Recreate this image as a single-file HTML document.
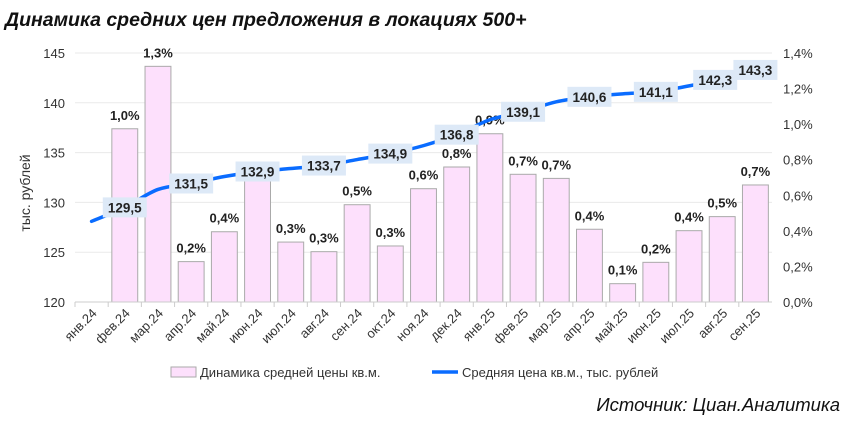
<!DOCTYPE html>
<html><head><meta charset="utf-8">
<style>
body{margin:0;background:#fff;width:846px;height:419px;overflow:hidden;font-family:"Liberation Sans",sans-serif;}
svg text{font-family:"Liberation Sans",sans-serif;}
</style></head>
<body>
<svg width="846" height="419" xmlns="http://www.w3.org/2000/svg">
<text x="5" y="26" font-size="19.5" font-weight="bold" font-style="italic" fill="#111">Динамика средних цен предложения в локациях 500+</text>
<g id="grid"></g>
<g id="bars"></g>
<g id="axes"></g>
<g id="line"></g>
<text transform="translate(30,193) rotate(-90)" text-anchor="middle" font-size="14" fill="#333">тыс. рублей</text>
<g>
<rect x="171" y="367" width="25" height="10" fill="#fde0fc" stroke="#aaa"/>
<text x="200" y="377" font-size="13" fill="#333">Динамика средней цены кв.м.</text>
<line x1="432" y1="372" x2="458" y2="372" stroke="#0a6cff" stroke-width="3.5"/>
<text x="462" y="377" font-size="13" fill="#333">Средняя цена кв.м., тыс. рублей</text>
</g>
<text x="840" y="411" text-anchor="end" font-size="18.5" font-style="italic" fill="#111">Источник: Циан.Аналитика</text>
</svg>
<script>
const categories=["янв.24","фев.24","мар.24","апр.24","май.24","июн.24","июл.24","авг.24","сен.24","окт.24","ноя.24","дек.24","янв.25","фев.25","мар.25","апр.25","май.25","июн.25","июл.25","авг.25","сен.25"];
const barValues=[null,0.974,1.325,0.227,0.395,0.7,0.337,0.283,0.547,0.315,0.637,0.759,0.946,0.718,0.695,0.409,0.103,0.223,0.401,0.48,0.658];
const barLabels=["","1,0%","1,3%","0,2%","0,4%","","0,3%","0,3%","0,5%","0,3%","0,6%","0,8%","0,9%","0,7%","0,7%","0,4%","0,1%","0,2%","0,4%","0,5%","0,7%"];
const priceValues=[128.1,129.5,131.3,131.9,132.6,133.1,133.4,133.7,134.3,134.9,135.7,136.8,138.3,139.1,140.1,140.6,140.9,141.1,141.7,142.3,143.3];
const priceLabels=["","129,5","","131,5","","132,9","","133,7","","134,9","","136,8","","139,1","","140,6","","141,1","","142,3","143,3"];
const leftTicks=[120,125,130,135,140,145];
const rightTicks=["0,0%","0,2%","0,4%","0,6%","0,8%","1,0%","1,2%","1,4%"];
const NS="http://www.w3.org/2000/svg";
const X0=75,X1=772,Y0=302,Y1=53;
const step=(X1-X0)/categories.length;
const xc=i=>X0+step*(i+0.5);
const yL=v=>Y0-(v-120)/25*(Y0-Y1);
const yR=v=>Y0-v/1.4*(Y0-Y1);
function mk(tag,attrs,parent,txt){const e=document.createElementNS(NS,tag);for(const k in attrs)e.setAttribute(k,attrs[k]);if(txt!==undefined)e.textContent=txt;parent.appendChild(e);return e;}
const grid=document.getElementById('grid'),bars=document.getElementById('bars'),axes=document.getElementById('axes'),line=document.getElementById('line');
leftTicks.forEach(t=>{
 if(t>120){const g=mk('line',{x1:X0,x2:X1,y1:yL(t),y2:yL(t),stroke:'#eaeaea','stroke-width':1},grid);
 
 }
 const tx=mk('text',{x:65,y:yL(t)+5,'text-anchor':'end','font-size':13,fill:'#333'},axes,String(t));
 
 
});
rightTicks.forEach((t,i)=>{
 const tx=mk('text',{x:783,y:yR(i*0.2)+5,'font-size':13,fill:'#333'},axes,t);
 
 
});
const ax=mk('line',{x1:X0,x2:X1,y1:Y0,y2:Y0,stroke:'#ccc'},axes);


categories.forEach((c,i)=>{
 const tk=mk('line',{x1:X0+step*i,x2:X0+step*i,y1:Y0,y2:Y0+5,stroke:'#ccc'},axes);
 
 
 const tx=mk('text',{transform:`translate(${xc(i)+6},${Y0+12}) rotate(-45)`,'text-anchor':'end','font-size':13,fill:'#333'},axes,c);
 
 
 const v=barValues[i];
 if(v!=null){
  const bw=step*0.78;
  const r=mk('rect',{x:xc(i)-bw/2,y:yR(v),width:bw,height:Y0-yR(v),fill:'#fde0fc',stroke:'#aaa','stroke-width':1},bars);
  
  
  if(barLabels[i]){const l=mk('text',{x:xc(i),y:yR(v)-9,'text-anchor':'middle','font-size':13,'font-weight':'bold',fill:'#222'},bars,barLabels[i]);
  
  }
 }
});
const pts=priceValues.map((v,i)=>[xc(i),yL(v)]);
let d=`M${pts[0][0]},${pts[0][1]}`;
for(let i=0;i<pts.length-1;i++){const p0=pts[Math.max(0,i-1)],p1=pts[i],p2=pts[i+1],p3=pts[Math.min(pts.length-1,i+2)];
 d+=` C${p1[0]+(p2[0]-p0[0])/6},${p1[1]+(p2[1]-p0[1])/6} ${p2[0]-(p3[0]-p1[0])/6},${p2[1]-(p3[1]-p1[1])/6} ${p2[0]},${p2[1]}`;}
const path=mk('path',{d:d,fill:'none',stroke:'#0a6cff','stroke-width':3.5,'stroke-linecap':'round'},line);


priceLabels.forEach((l,i)=>{
 if(!l)return;
 const cx=i===19?xc(i)-7:xc(i);
 const bg=mk('rect',{x:cx-22,y:pts[i][1]-10,width:44,height:20,fill:'#dde9f7'},line);
 
 
 const t=mk('text',{x:cx,y:pts[i][1]+5,'text-anchor':'middle','font-size':13.5,'font-weight':'bold',fill:'#222'},line,l);
 
 
});
</script>
</body></html>
